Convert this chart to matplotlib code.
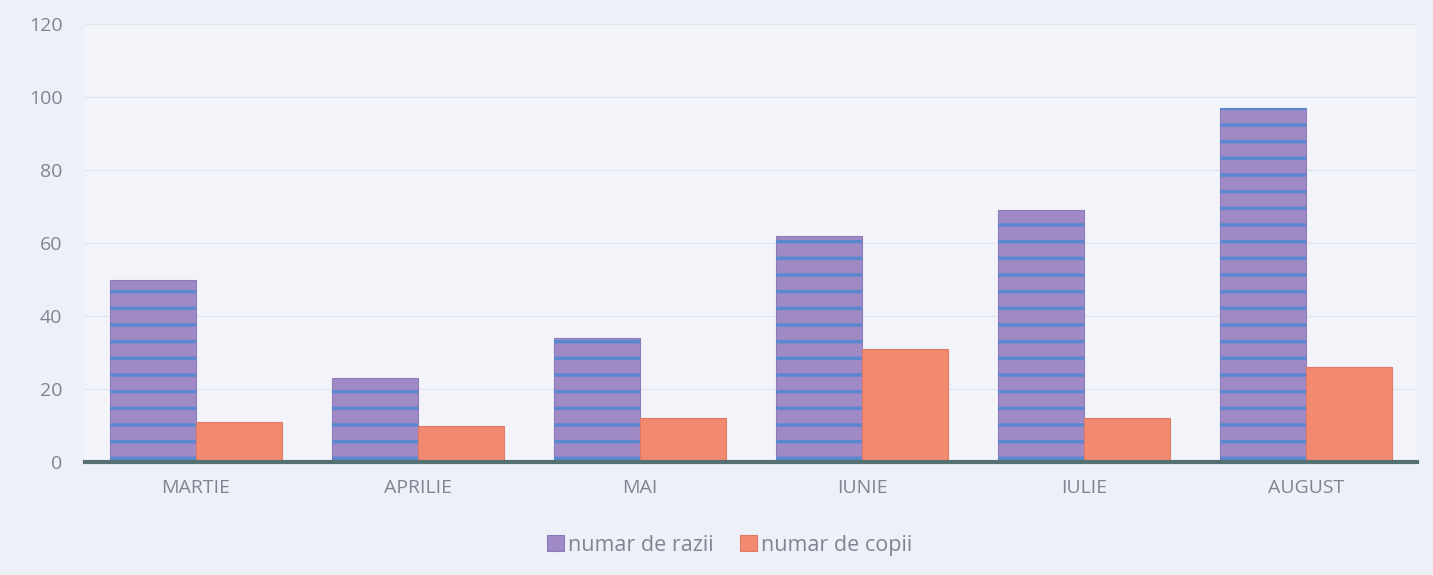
import numpy as np
import matplotlib.pyplot as plt

months = ['MARTIE', 'APRILIE', 'MAI', 'IUNIE', 'IULIE', 'AUGUST']
razii = [50, 23, 34, 62, 69, 97]
copii = [11, 10, 12, 31, 12, 26]
yticks = [0, 20, 40, 60, 80, 100, 120]

purple = '#a08ac6'
blue_stripe = '#5b86d0'
orange = '#f3896e'
txt = '#7d8594'

plt.rcParams['font.family'] = ['Open Sans', 'DejaVu Sans']
plt.rcParams['hatch.linewidth'] = 2.5

fig = plt.figure(figsize=(14.33, 5.75), dpi=100)
fig.patch.set_facecolor('#eef0f8')
ax = fig.add_axes([0.059, 0.1965, 0.930, 0.7617])
ax.set_facecolor('#f3f4fa')

x = np.arange(len(months))
w = 0.387

ax.bar(x - w / 2, razii, w, color=purple, edgecolor='#8c7cbc', linewidth=0.8,
       label='numar de razii', zorder=3)
ax.bar(x - w / 2, razii, w, color='none', edgecolor=blue_stripe, hatch='-',
       linewidth=0, zorder=4)
ax.bar(x + w / 2, copii, w, color=orange, edgecolor='#e07a66', linewidth=0.8,
       label='numar de copii', zorder=3)

ax.set_xlim(-0.5, len(months) - 0.5)
ax.set_ylim(0, 120)
ax.set_yticks(yticks)
ax.set_xticks(x)
ax.set_xticklabels(months)
ax.tick_params(length=0, labelsize=14, colors=txt, pad=12)
ax.tick_params(axis='y', pad=16)

ax.grid(axis='y', color='#e3e5f0', linewidth=1, zorder=0)
for s in ['top', 'right', 'left']:
    ax.spines[s].set_visible(False)
ax.spines['bottom'].set_color('#557070')
ax.spines['bottom'].set_linewidth(3)
ax.spines['bottom'].set_zorder(5)

leg = fig.legend(loc='center', bbox_to_anchor=(0.509, 0.052), ncol=2, frameon=False,
                 fontsize=15.5, handlelength=0.8, handleheight=0.8, handletextpad=0.2,
                 columnspacing=1.2)
for t in leg.get_texts():
    t.set_color(txt)

fig.savefig('out.png', dpi=100, facecolor=fig.get_facecolor())
